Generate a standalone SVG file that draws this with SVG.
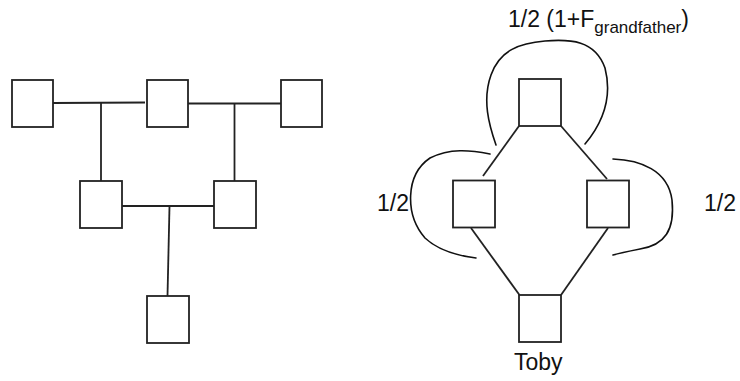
<svg xmlns="http://www.w3.org/2000/svg" width="740" height="381" viewBox="0 0 740 381">
<style>
.box{fill:#fff;stroke:#222;stroke-width:1.8}
.ln{fill:none;stroke:#222;stroke-width:1.8}
.arc{fill:none;stroke:#111;stroke-width:1.6;stroke-linecap:round}
.t{font-family:"Liberation Sans",Arial,sans-serif;fill:#111}
</style>
<rect width="740" height="381" fill="#fff"/>
<g id="connectors">
<path class="ln" d="M53,103 L145,102.5"/>
<path class="ln" d="M101,103 L101,181"/>
<path class="ln" d="M188,103.5 L281,103.5"/>
<path class="ln" d="M234.5,103.5 L234.5,181"/>
<path class="ln" d="M122,206 L214,206"/>
<path class="ln" d="M169.5,206 L167.5,296"/>
<path class="ln" d="M519,126 L483,176"/>
<path class="ln" d="M561,126 L607,179"/>
<path class="ln" d="M471,228 L519.5,295"/>
<path class="ln" d="M608,228 L561,295"/>
</g>
<g id="arcs">
<path class="arc" d="M496,145 C489,125 482,100 491,75 C500,50 520,43 545,41 C570,39 595,40 605,68 C612,95 605,120 585,144"/>
<path class="arc" d="M490,154 C470,150 450,148 430,158 C405,175 405,215 425,238 C440,252 460,256 476,258"/>
<path class="arc" d="M613,159 C640,160 668,170 672,200 C675,230 665,245 640,249 C630,251 620,253 613,255"/>
</g>
<g id="n1"><rect class="box" x="12" y="80" width="41" height="47"/></g>
<g id="n2"><rect class="box" x="147" y="80" width="41" height="47"/></g>
<g id="n3"><rect class="box" x="281" y="80" width="41" height="47"/></g>
<g id="n4"><rect class="box" x="80" y="181" width="42" height="47"/></g>
<g id="n5"><rect class="box" x="214" y="181" width="42" height="47"/></g>
<g id="n6"><rect class="box" x="147" y="296" width="42" height="47"/></g>
<g id="grandfather"><rect class="box" x="519" y="79" width="42" height="47"/></g>
<g id="parent-left"><rect class="box" x="453" y="180.5" width="42" height="47"/></g>
<g id="parent-right"><rect class="box" x="587" y="180.5" width="42" height="47"/></g>
<g id="toby"><rect class="box" x="519" y="295" width="42" height="47"/></g>
<text class="t" x="508" y="27" font-size="23">1/2 (1+F<tspan font-size="17" dy="6">grandfather</tspan><tspan dy="-6">)</tspan></text>
<text class="t" x="377" y="211" font-size="23">1/2</text>
<text class="t" x="704" y="211" font-size="23">1/2</text>
<text class="t" x="514" y="370" font-size="23">Toby</text>
</svg>
